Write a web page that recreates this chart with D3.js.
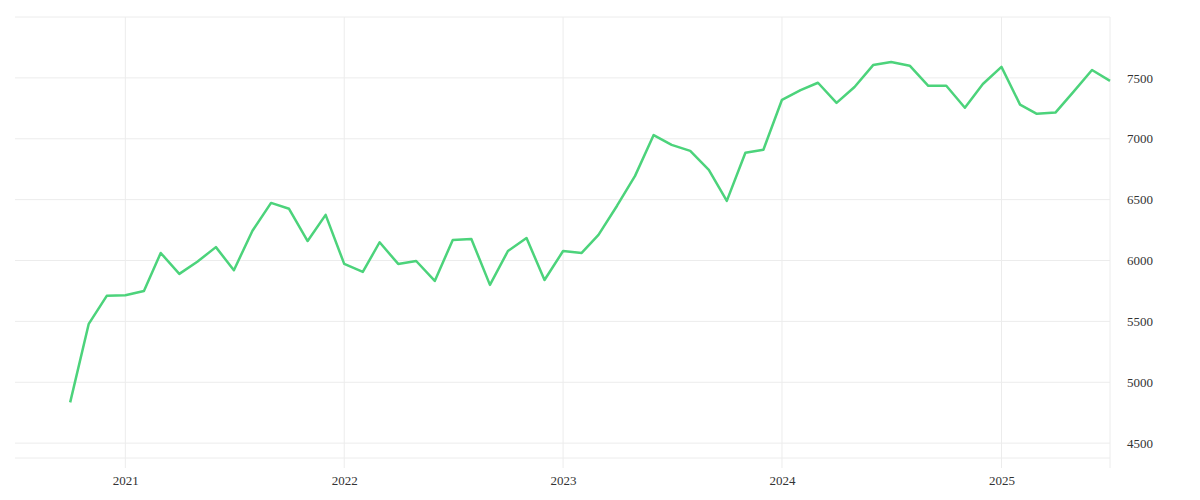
<!DOCTYPE html>
<html><head><meta charset="utf-8">
<script src="https://cdn.jsdelivr.net/npm/d3@7"></script>
<style>
body{margin:0;background:#fff}
</style></head><body><svg id="c" width="1200" height="500"></svg>
<script>
// monthly values, Oct 2020 .. Jul 2025
const startMonth = [2020, 9];
const values = [
  4835, 5480, 5710,
  5715, 5750, 6062, 5890, 5990, 6110, 5920, 6245, 6473, 6425, 6160, 6375,
  5972, 5906, 6150, 5972, 5996, 5832, 6169, 6177, 5800, 6078, 6185, 5840,
  6078, 6062, 6210, 6450, 6695, 7030, 6950, 6900, 6745, 6490, 6885, 6910,
  7320, 7400, 7460, 7295, 7425, 7605, 7630, 7600, 7435, 7435, 7255, 7450,
  7590, 7280, 7205, 7215, 7385, 7565, 7475
];
const yTicks = [4500, 5000, 5500, 6000, 6500, 7000, 7500];
const xTickYears = [2021, 2022, 2023, 2024, 2025];

const data = values.map((v, i) => ({date: new Date(startMonth[0], startMonth[1] + i, 1), value: v}));

const margin = {left: 15, right: 90, top: 17, bottom: 42};
const width = 1200 - margin.left - margin.right;
const height = 500 - margin.top - margin.bottom;
const font = 'Liberation Serif, DejaVu Serif, serif';

const svg = d3.select('#c');
const g = svg.append('g').attr('transform', `translate(${margin.left},${margin.top})`);

const x = d3.scaleTime()
    .domain([new Date(2020, 6, 1), data[data.length - 1].date])
    .range([0, width]);
const y = d3.scaleLinear().domain([4378, 8000]).range([height, 0]);

// grid
g.append('g').selectAll('line').data([8000, ...yTicks]).enter().append('line')
    .attr('x1', 0).attr('x2', width)
    .attr('y1', d => y(d)).attr('y2', d => y(d))
    .attr('stroke', '#ececec');
g.append('line').attr('x1', 0).attr('x2', width).attr('y1', height).attr('y2', height).attr('stroke', '#ececec');
g.append('g').selectAll('line').data(xTickYears).enter().append('line')
    .attr('x1', d => x(new Date(d, 0, 1))).attr('x2', d => x(new Date(d, 0, 1)))
    .attr('y1', 0).attr('y2', height + 10)
    .attr('stroke', '#ececec');
g.append('line').attr('x1', width).attr('x2', width).attr('y1', 0).attr('y2', height + 10).attr('stroke', '#ececec');

// axes
const yAxis = g.append('g').attr('transform', `translate(${width},0)`)
    .call(d3.axisRight(y).tickValues(yTicks).tickFormat(d3.format('d')).tickSize(0).tickPadding(17));
yAxis.attr('font-family', font).attr('font-size', 13);
yAxis.select('.domain').remove();
yAxis.selectAll('text').attr('fill', '#333');

const xAxis = g.append('g').attr('transform', `translate(0,${height})`)
    .call(d3.axisBottom(x).tickValues(xTickYears.map(d => new Date(d, 0, 1))).tickFormat(d3.timeFormat('%Y')).tickSize(0).tickPadding(18));
xAxis.attr('font-family', font).attr('font-size', 13);
xAxis.select('.domain').remove();
xAxis.selectAll('text').attr('fill', '#333');

// line
g.append('path').datum(data)
    .attr('fill', 'none')
    .attr('stroke', '#4cd37b')
    .attr('stroke-width', 2.5)
    .attr('stroke-linejoin', 'round')
    .attr('d', d3.line().x(d => x(d.date)).y(d => y(d.value)));
</script></body></html>
